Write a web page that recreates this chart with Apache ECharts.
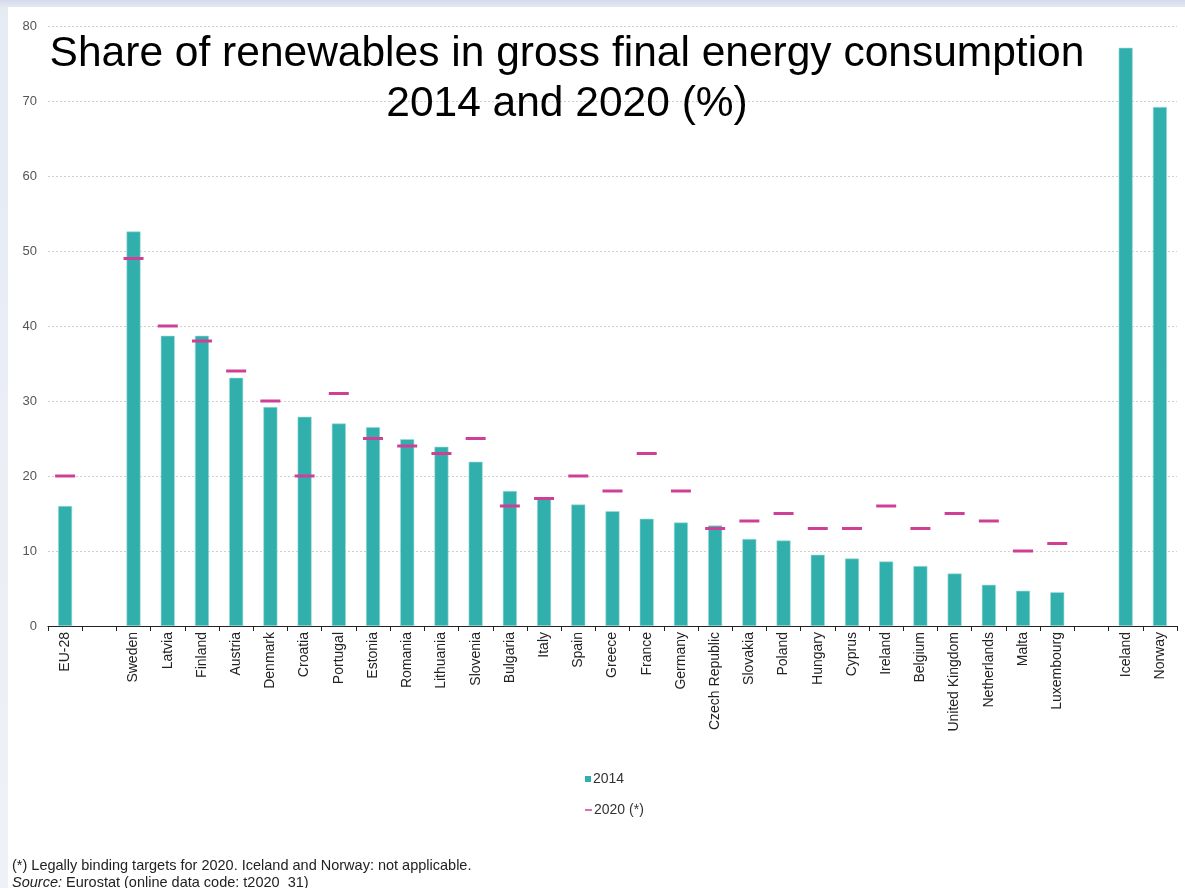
<!DOCTYPE html>
<html>
<head>
<meta charset="utf-8">
<script src="https://cdn.jsdelivr.net/npm/echarts@6/dist/echarts.min.js"></script>
<style>
  html, body { margin: 0; padding: 0; }
  body {
    width: 1185px; height: 888px; overflow: hidden;
    background: linear-gradient(180deg, #d3dbea 0px, #e6eaf3 8px, #eef1f7 100%);
    position: relative;
  }
  #sheet { position: absolute; left: 8px; top: 7px; right: 0; bottom: 0; background: #fff; }
  #chart { position: absolute; left: 0; top: 0; width: 1185px; height: 888px; }
</style>
</head>
<body>
<div id="sheet"></div>
<div id="chart"></div>
<script>
  const categories = [
    "EU-28", "", "Sweden", "Latvia", "Finland", "Austria", "Denmark", "Croatia",
    "Portugal", "Estonia", "Romania", "Lithuania", "Slovenia", "Bulgaria", "Italy",
    "Spain", "Greece", "France", "Germany", "Czech Republic", "Slovakia", "Poland",
    "Hungary", "Cyprus", "Ireland", "Belgium", "United Kingdom", "Netherlands",
    "Malta", "Luxembourg", "", "Iceland", "Norway"
  ];
  const share2014 = [
    16.0, null, 52.6, 38.7, 38.7, 33.1, 29.2, 27.9,
    27.0, 26.5, 24.9, 23.9, 21.9, 18.0, 17.1,
    16.2, 15.3, 14.3, 13.8, 13.4, 11.6, 11.4,
    9.5, 9.0, 8.6, 8.0, 7.0, 5.5,
    4.7, 4.5, null, 77.1, 69.2
  ];
  const target2020 = [
    20, null, 49, 40, 38, 34, 30, 20,
    31, 25, 24, 23, 25, 16, 17,
    20, 18, 23, 18, 13, 14, 15,
    13, 13, 16, 13, 15, 14,
    10, 11, null, null, null
  ];
  const yTicks = { min: 0, max: 80, interval: 10 };

  const TEAL = "#31afac";
  const PINK = "#cf3f96";
  const FONT = "Liberation Sans, Arial, sans-serif";

  const chart = echarts.init(document.getElementById("chart"), null, { renderer: "canvas" });

  chart.setOption({
    backgroundColor: "transparent",
    animation: false,
    textStyle: { fontFamily: FONT },
    title: {
      text: "Share of renewables in gross final energy consumption\n2014 and 2020 (%)",
      left: 562,
      top: 24,
      textAlign: "center",
      textStyle: { fontFamily: FONT, fontSize: 42.5, fontWeight: "normal", color: "#000", lineHeight: 50 }
    },
    legend: [
      {
        data: ["2014"], left: 580, top: 767, icon: "rect", itemWidth: 6, itemHeight: 6, itemGap: 2,
        itemStyle: { borderWidth: 0 },
        textStyle: { fontSize: 14, color: "#333", padding: [0, 0, 0, -3] }
      },
      {
        data: ["2020 (*)"], left: 580, top: 798, icon: "rect", itemWidth: 7, itemHeight: 1.5, itemGap: 2,
        itemStyle: { borderWidth: 0 },
        textStyle: { fontSize: 14, color: "#333", padding: [0, 0, 0, -3] }
      }
    ],
    grid: { left: 48, right: 8, top: 26, bottom: 262, containLabel: false },
    xAxis: {
      type: "category",
      data: categories,
      axisLine: { lineStyle: { color: "#222", width: 1.2 } },
      axisTick: { show: true, length: 5, lineStyle: { color: "#222" } },
      axisLabel: { rotate: 90, interval: 0, fontSize: 14, color: "#222", margin: 6 }
    },
    yAxis: {
      type: "value",
      min: yTicks.min, max: yTicks.max, interval: yTicks.interval,
      axisLine: { show: false },
      axisTick: { show: false },
      axisLabel: { fontSize: 13, color: "#555", margin: 11 },
      splitLine: { lineStyle: { color: "#cfcfcf", type: [2, 2], width: 1 } }
    },
    series: [
      {
        name: "2014",
        type: "bar",
        data: share2014,
        barWidth: 14,
        itemStyle: { color: TEAL, borderColor: "#9edcd9", borderWidth: 0.6 },
        z: 2
      },
      {
        name: "2020 (*)",
        type: "scatter",
        data: target2020,
        symbol: "rect",
        symbolSize: [20, 3],
        itemStyle: { color: PINK, opacity: 1 },
        z: 3
      }
    ],
    graphic: [
      {
        type: "text", left: 12, top: 858,
        style: { text: "(*) Legally binding targets for 2020. Iceland and Norway: not applicable.", fontSize: 14.5, fontFamily: FONT, fill: "#222" }
      },
      {
        type: "text", left: 12, top: 875,
        style: {
          text: "{i|Source:} Eurostat (online data code: t2020_31)",
          fontSize: 14.5, fontFamily: FONT, fill: "#222",
          rich: { i: { fontStyle: "italic", fontSize: 14.5, fontFamily: FONT, fill: "#222" } }
        }
      }
    ]
  });
</script>
</body>
</html>
